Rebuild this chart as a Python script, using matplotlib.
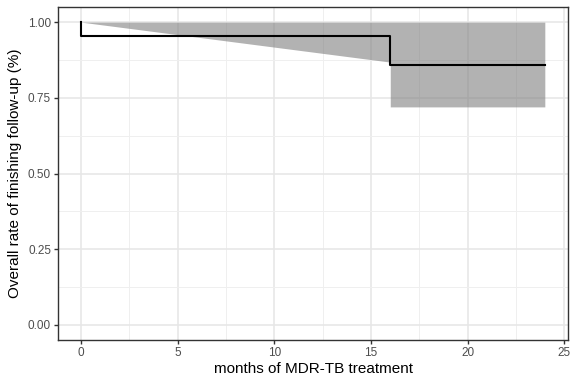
import numpy as np
import matplotlib
matplotlib.use("Agg")
import matplotlib.pyplot as plt

plt.rcParams['font.family'] = ['Liberation Sans', 'DejaVu Sans']

# Kaplan-Meier step estimate (months, survival)
km_time = [0, 0, 16, 16, 24]
km_surv = [1.0, 0.955, 0.955, 0.859, 0.859]

# confidence band
ci_time = [0, 16, 16, 24]
ci_lower = [1.0, 0.868, 0.72, 0.72]
ci_upper = [1.0, 1.0, 1.0, 1.0]

x_ticks = [0, 5, 10, 15, 20, 25]
y_ticks = [0.0, 0.25, 0.5, 0.75, 1.0]
y_labels = ["0.00", "0.25", "0.50", "0.75", "1.00"]

fig = plt.figure(figsize=(5.74, 3.76), dpi=100)
ax = fig.add_axes([58 / 574, 36 / 376, 510 / 574, 333 / 376])

ax.set_xlim(-1.2, 25.2)
ax.set_ylim(-0.05, 1.05)

# grid like theme_bw
ax.set_xticks(x_ticks)
ax.set_yticks(y_ticks)
ax.set_xticks(np.arange(2.5, 25, 5), minor=True)
ax.set_yticks(np.arange(0.125, 1.0, 0.25), minor=True)
ax.grid(which='major', color='#e6e6e6', lw=1.1)
ax.grid(which='minor', color='#efefef', lw=0.7)
ax.set_axisbelow(True)

ax.fill_between(ci_time, ci_lower, ci_upper, color='#7f7f7f', alpha=0.6,
                lw=0, zorder=2)
ax.plot(km_time, km_surv, color='black', lw=1.5, zorder=3)

ax.set_yticklabels(y_labels)
ax.tick_params(which='major', length=3, width=1, color='#333333',
               labelcolor='#4d4d4d', labelsize=8.5, pad=2)
ax.tick_params(which='minor', length=0)
for s in ax.spines.values():
    s.set_color('#333333')
    s.set_linewidth(1)

ax.set_xlabel("months of MDR-TB treatment", fontsize=11, labelpad=2)
ax.set_ylabel("Overall rate of finishing follow-up (%)", fontsize=11, labelpad=4)

fig.savefig("out.png", dpi=100)
